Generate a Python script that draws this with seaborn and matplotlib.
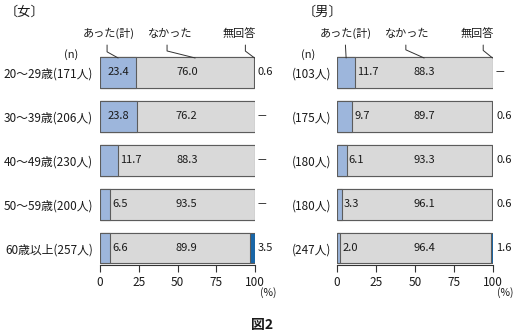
import matplotlib
matplotlib.use("Agg")
import matplotlib.pyplot as plt
import seaborn as sns
import pandas as pd

sns.set_theme(style="white")
plt.rcParams['font.family'] = ['Noto Sans CJK JP', 'DejaVu Sans']

# ---- data ----
female_groups = ["20～29歳(171人)", "30～39歳(206人)", "40～49歳(230人)",
                 "50～59歳(200人)", "60歳以上(257人)"]
female_yes = [23.4, 23.8, 11.7, 6.5, 6.6]
female_no = [76.0, 76.2, 88.3, 93.5, 89.9]
female_na = [0.6, 0.0, 0.0, 0.0, 3.5]

male_groups = ["(103人)", "(175人)", "(180人)", "(180人)", "(247人)"]
male_yes = [11.7, 9.7, 6.1, 3.3, 2.0]
male_no = [88.3, 89.7, 93.3, 96.1, 96.4]
male_na = [0.0, 0.6, 0.6, 0.6, 1.6]

series_names = ["あった(計)", "なかった", "無回答"]
x_ticks = [0, 25, 50, 75, 100]

# ---- style ----
C_YES = "#9db6dc"
C_NO = "#d9d9d9"
C_NA = "#1866a8"
EDGE = "#5c5c5c"
TXT = "#1a1a1a"
FS = 8

W, H = 515, 333
fig = plt.figure(figsize=(W / 100, H / 100), dpi=100)


def px(x, y):
    """pixel position (from top-left) -> figure fraction"""
    return x / W, 1 - y / H


ax_f = fig.add_axes([100 / W, (H - 265) / H, 155 / W, 209 / H])
ax_m = fig.add_axes([337 / W, (H - 265) / H, 156 / W, 209 / H])


def draw_panel(ax, groups, yes, no, na, label_pad):
    df = pd.DataFrame({"row": range(len(groups)), "yes": yes, "no": no, "na": na})
    df["cum_no"] = df["yes"] + df["no"]
    df["cum_na"] = df["cum_no"] + df["na"]
    # stacked segments drawn back to front from cumulative totals
    for col, color in [("cum_na", C_NA), ("cum_no", C_NO), ("yes", C_YES)]:
        sns.barplot(data=df, x=col, y="row", orient="h", color=color,
                    saturation=1, width=0.70, edgecolor=EDGE, linewidth=0.8,
                    errorbar=None, ax=ax)
    ax.set_xlim(0, 100)
    ax.set_ylim(4.386, -0.375)
    ax.set_xlabel("")
    ax.set_ylabel("")
    ax.set_xticks(x_ticks)
    ax.set_xticklabels([str(t) for t in x_ticks])
    ax.set_yticks(range(len(groups)))
    ax.set_yticklabels(groups)
    sns.despine(ax=ax, left=True)
    ax.spines["bottom"].set_color("#333333")
    ax.spines["bottom"].set_linewidth(0.8)
    ax.tick_params(axis="x", bottom=True, direction="out", length=5, width=0.8,
                   color="#333333", labelsize=8.5, pad=3, labelcolor=TXT)
    ax.tick_params(axis="y", left=False, length=0, labelsize=8.5,
                   pad=label_pad, labelcolor=TXT)

    for i, (y_, n_, a_) in enumerate(zip(yes, no, na)):
        if y_ >= 15:
            ax.text(y_ / 2, i, f"{y_:.1f}", ha="center", va="center",
                    fontsize=FS, color=TXT)
        else:
            ax.annotate(f"{y_:.1f}", xy=(y_, i), xytext=(2, 0),
                        textcoords="offset pixels", ha="left", va="center",
                        fontsize=FS, color=TXT)
        ax.text(56, i, f"{n_:.1f}", ha="center", va="center",
                fontsize=FS, color=TXT)
        if a_ > 0:
            ax.annotate(f"{a_:.1f}", xy=(100, i), xytext=(3, 0),
                        textcoords="offset pixels", ha="left", va="center",
                        fontsize=FS, color=TXT, annotation_clip=False)
        else:
            ax.annotate("—", xy=(100, i), xytext=(7, 0),
                        textcoords="offset pixels", ha="center", va="center",
                        fontsize=7, color=TXT, annotation_clip=False)


draw_panel(ax_f, female_groups, female_yes, female_no, female_na, 5)
draw_panel(ax_m, male_groups, male_yes, male_no, male_na, 4)


def leader(ax, text, x_target, dx, relx, angle_b=None):
    if angle_b is None:
        conn = "arc3,rad=0"
    else:
        conn = f"angle,angleA=90,angleB={angle_b},rad=0"
    ax.annotate(text, xy=(x_target, -0.33), xycoords="data",
                xytext=(dx, 19), textcoords="offset pixels",
                ha="center", va="bottom", fontsize=FS, color=TXT,
                annotation_clip=False,
                arrowprops=dict(arrowstyle="-", color="#333333", lw=0.7,
                                shrinkA=2, shrinkB=0, relpos=(relx, 0),
                                connectionstyle=conn))


# series callouts on the first row of each panel
leader(ax_f, series_names[0], female_yes[0] / 2, -9.5, 0.47, 151)
leader(ax_f, series_names[1], female_yes[0] + female_no[0] / 2, -25, 0.43, 166)
leader(ax_f, series_names[2], 99.7, -15.5, 0.69, 143)
leader(ax_m, series_names[0], male_yes[0] / 2, 0, 0.48)
leader(ax_m, series_names[1], male_yes[0] + male_no[0] / 2, -16.5, 0.46, 156)
leader(ax_m, series_names[2], 99.7, -15, 0.67, 141)

# panel titles, (n), (%) and caption
fig.text(*px(5, 12), "〔女〕", ha="left", va="center", fontsize=9.5, color=TXT)
fig.text(*px(303, 12), "〔男〕", ha="left", va="center", fontsize=9.5, color=TXT)
fig.text(*px(71, 55), "(n)", ha="center", va="center", fontsize=FS, color=TXT)
fig.text(*px(308, 55), "(n)", ha="center", va="center", fontsize=FS, color=TXT)
fig.text(*px(268, 293), "(%)", ha="center", va="center", fontsize=7.5, color=TXT)
fig.text(*px(505, 293), "(%)", ha="center", va="center", fontsize=7.5, color=TXT)
fig.text(*px(262, 325), "図2", ha="center", va="center", fontsize=10,
         fontweight="bold", color=TXT)

fig.savefig("out.png", dpi=100, facecolor="white")
